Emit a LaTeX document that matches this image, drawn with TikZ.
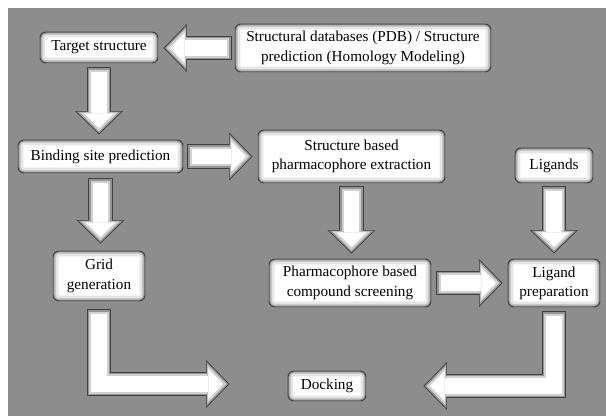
\documentclass[tikz,border=0pt]{standalone}
\usepackage{fontspec}
\setmainfont{Liberation Serif}
\usetikzlibrary{arrows.meta, calc}
\definecolor{bggrey}{RGB}{141,141,141}
\definecolor{edgegrey}{RGB}{64,64,64}

\begin{document}
\begin{tikzpicture}[
    x=0.03cm, y=-0.03cm,
    every node/.style={font=\fontsize{13}{16.5}\selectfont},
    box/.style={
        rectangle,
        rounded corners=5pt,
        draw=edgegrey,
        line width=0.8pt,
        fill=white,
        inner sep=0pt,
        align=center,
        path picture={
            \draw[black!10, line width=9pt, rounded corners=5pt]
                (path picture bounding box.south west) rectangle (path picture bounding box.north east);
            \draw[black!22, line width=5pt, rounded corners=5pt]
                (path picture bounding box.south west) rectangle (path picture bounding box.north east);
            \draw[black!45, line width=2.5pt, rounded corners=5pt]
                (path picture bounding box.south west) rectangle (path picture bounding box.north east);
        }
    },
    blockarrow/.style={
        line join=miter,
        preaction={draw=edgegrey, line width=21pt, shorten <=0pt, shorten >=0pt,
            -{Triangle[width=41pt, length=20pt, line width=0pt]}},
        preaction={draw=black!42, line width=19.5pt, shorten <=0.75pt, shorten >=1.05pt,
            -{Triangle[width=38.1pt, length=18.6pt, line width=0pt]}},
        preaction={draw=black!18, line width=17pt, shorten <=2pt, shorten >=2.8pt,
            -{Triangle[width=33.2pt, length=16.2pt, line width=0pt]}},
        draw=white, line width=13pt, shorten <=4pt, shorten >=5.6pt,
        -{Triangle[width=25.4pt, length=12.4pt, line width=0pt]}
    }
]

\useasboundingbox (0,0) rectangle (606,418);
\fill[bggrey] (8,8) rectangle (606,416);

% boxes
\node[box, minimum width=3.54cm, minimum height=0.93cm] (target) at (99,47.5) {Target structure};
\node[box, minimum width=7.68cm, minimum height=1.44cm] (pdb) at (363,48) {Structural databases (PDB) / Structure\\prediction (Homology Modeling)};
\node[box, minimum width=4.95cm, minimum height=0.99cm] (binding) at (100.5,156.5) {Binding site prediction};
\node[box, minimum width=5.61cm, minimum height=1.59cm] (extract) at (351.5,156.5) {Structure based\\pharmacophore extraction};
\node[box, minimum width=2.34cm, minimum height=1.05cm] (ligands) at (554,165.5) {Ligands};
\node[box, minimum width=2.76cm, minimum height=1.5cm] (grid) at (99,276) {Grid\\generation};
\node[box, minimum width=4.86cm, minimum height=1.44cm] (screen) at (350,283) {Pharmacophore based\\compound screening};
\node[box, minimum width=2.76cm, minimum height=1.44cm] (ligprep) at (554,283) {Ligand\\preparation};
\node[box, minimum width=2.34cm, minimum height=0.9cm] (docking) at (327,386) {Docking};

% block arrows
\draw[blockarrow] ($(pdb.west)+(-3,0)$) -- ($(target.east |- pdb.west)+(5,0)$);
\draw[blockarrow] ($(target.south)+(0,4)$) -- ($(target.south |- binding.north)+(0,-5)$);
\draw[blockarrow] ($(binding.east)+(4,0)$) -- ($(extract.west)+(-5,0)$);
\draw[blockarrow] ($(binding.south)+(0,5)$) -- ($(binding.south |- grid.north)+(0,-7)$);
\draw[blockarrow] ($(extract.south)+(0,3)$) -- ($(extract.south |- screen.north)+(0,-5)$);
\draw[blockarrow] ($(ligands.south)+(0,3)$) -- ($(ligprep.north)+(0,-5)$);
\draw[blockarrow] ($(screen.east)+(5,0)$) -- ($(ligprep.west)+(-5,0)$);
\draw[blockarrow] ($(grid.south)+(0,8)$) |- ($(docking.west)+(-58,-2)$);
\draw[blockarrow] ($(ligprep.south)+(0,4)$) |- ($(docking.east)+(57,0)$);

\end{tikzpicture}
\end{document}
